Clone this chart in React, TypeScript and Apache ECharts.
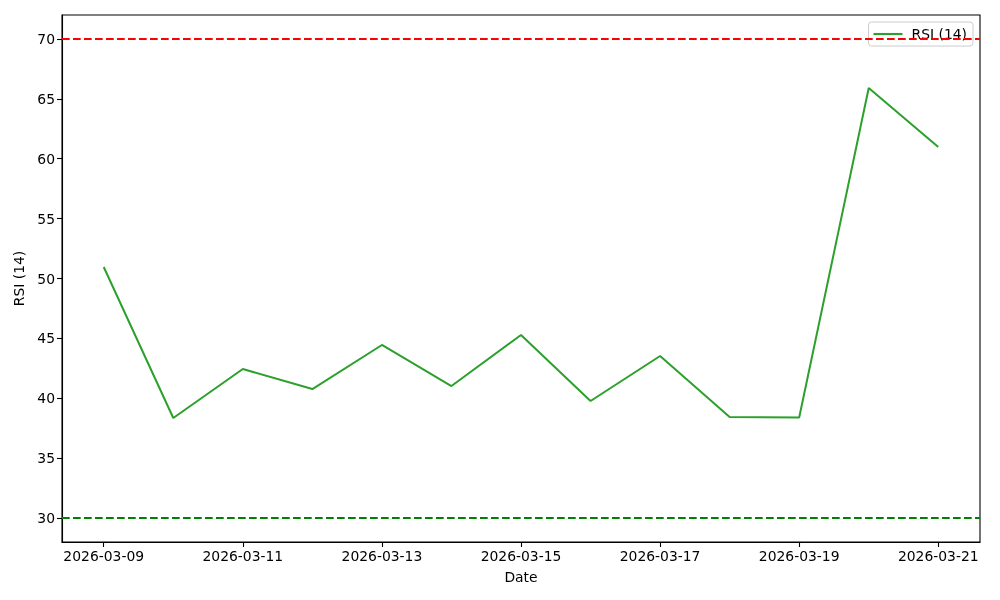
import React, { useEffect, useRef } from "react";
import * as echarts from "echarts";

const dates = [
  "2026-03-09", "2026-03-10", "2026-03-11", "2026-03-12", "2026-03-13",
  "2026-03-14", "2026-03-15", "2026-03-16", "2026-03-17", "2026-03-18",
  "2026-03-19", "2026-03-20", "2026-03-21",
];
const rsi = [50.96, 38.35, 42.44, 40.77, 44.45, 41.02, 45.28, 39.77, 43.53, 38.43, 38.39, 65.91, 60.98];
const xTickIdx = [0, 2, 4, 6, 8, 10, 12];
const yTicks = [30, 35, 40, 45, 50, 55, 60, 65, 70];
const overbought = 70;
const oversold = 30;

export default function App() {
  const ref = useRef<HTMLDivElement>(null);
  useEffect(() => {
    if (!ref.current) return;
    const chart = echarts.init(ref.current, null, { renderer: "svg" });
    const font = "DejaVu Sans";
    chart.setOption({
      animation: false,
      textStyle: { fontFamily: font },
      grid: {
        left: 62, right: 20, top: 15, bottom: 58,
        show: true, borderColor: "#000", borderWidth: 1.1, backgroundColor: "transparent",
      },
      legend: {
        right: 27, top: 22,
        backgroundColor: "rgba(255,255,255,0.8)",
        borderColor: "#cccccc", borderWidth: 1, borderRadius: 3,
        padding: [5, 6, 5, 5],
        itemWidth: 29, itemHeight: 14, itemGap: 8,
        textStyle: { fontSize: 13.9, color: "#000", fontFamily: font, padding: [0, 0, 0, 4] },
        data: [{ name: "RSI (14)", icon: "path://M0,0 L29,0 L29,2.1 L0,2.1 Z", itemStyle: { color: "#2ca02c" } }],
      },
      xAxis: {
        type: "value",
        min: -0.6, max: 12.6,
        name: "Date", nameLocation: "middle", nameGap: 28,
        nameTextStyle: { fontSize: 13.9, color: "#000", fontFamily: font },
        axisLine: { show: true, onZero: false, lineStyle: { color: "#000", width: 1.1 } },
        axisTick: { show: true, length: 5, lineStyle: { color: "#000", width: 1.1 }, customValues: xTickIdx },
        axisLabel: {
          customValues: xTickIdx, fontSize: 13.9, color: "#000", margin: 7, fontFamily: font,
          formatter: (v: number) => dates[Math.round(v)],
        },
        splitLine: { show: false },
      },
      yAxis: {
        type: "value",
        min: 28, max: 72,
        name: "RSI (14)", nameLocation: "middle", nameGap: 34, nameRotate: 90,
        nameTextStyle: { fontSize: 13.9, color: "#000", fontFamily: font },
        axisLine: { show: true, onZero: false, lineStyle: { color: "#000", width: 1.1 } },
        axisTick: { show: true, length: 5, lineStyle: { color: "#000", width: 1.1 }, customValues: yTicks },
        axisLabel: { customValues: yTicks, fontSize: 13.9, color: "#000", margin: 7, fontFamily: font },
        splitLine: { show: false },
      },
      series: [
        {
          name: "RSI (14)",
          type: "line",
          data: rsi.map((v, i) => [i, v]),
          showSymbol: false,
          symbol: "none",
          lineStyle: { color: "#2ca02c", width: 2 },
          itemStyle: { color: "#2ca02c" },
          z: 3,
          markLine: {
            silent: true,
            symbol: "none",
            label: { show: false },
            data: [
              { yAxis: overbought, lineStyle: { color: "red", type: [7.7, 3.3], width: 2 } },
              { yAxis: oversold, lineStyle: { color: "green", type: [7.7, 3.3], width: 2 } },
            ],
          },
        },
      ],
    });
    return () => chart.dispose();
  }, []);
  return <div ref={ref} style={{ position: "fixed", left: 0, top: 0, width: 1000, height: 600 }} />;
}
